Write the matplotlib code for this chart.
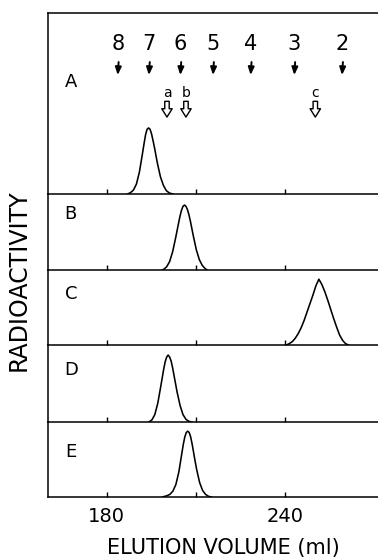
import matplotlib
matplotlib.use("Agg")
import matplotlib.pyplot as plt

# ---------------- data ----------------
panel_labels = ["A", "B", "C", "D", "E"]

a_x = [187.0, 188.0, 189.0, 190.0, 191.0, 192.0, 192.6, 193.1, 193.6, 194.1, 194.6,
       195.1, 195.6, 196.1, 197.1, 198.1, 199.1, 200.1, 201.1, 202.3]
a_y = [0, 2, 6, 15, 33, 60, 77, 90, 98, 100, 98, 91, 81, 70, 46, 26, 13, 5, 1.5, 0]

b_x = [198.7, 199.2, 200.2, 201.2, 202.2, 203.2, 204.2, 204.7, 205.2, 205.7, 206.2,
       206.7, 207.2, 207.7, 208.2, 209.2, 210.2, 211.2, 212.2, 213.2, 213.9]
b_y = [0, 1, 5, 13, 28, 49, 72, 83, 92, 98, 100, 98, 93, 85, 75, 52, 31, 16, 7, 2, 0]

c_x = [240.5, 241.5, 242.5, 243.5, 244.5, 245.5, 246.5, 247.5, 248.5, 249.5, 250.5,
       251.5, 252.5, 253.5, 254.5, 255.5, 256.5, 257.5, 258.5, 259.5, 260.5, 261.5]
c_y = [0, 2, 5, 10, 17, 26, 37, 50, 63, 76, 90, 100, 92, 81, 68, 54, 40, 27, 15, 7, 2, 0]

d_x = [194.2, 195.2, 196.2, 197.2, 198.2, 198.7, 199.2, 199.7, 200.2, 200.7, 201.2,
       201.7, 202.2, 202.7, 203.7, 204.7, 205.7, 206.7, 207.7, 208.7]
d_y = [0, 3, 11, 28, 53, 66, 79, 90, 97, 100, 97, 91, 81, 69, 45, 25, 11, 4, 1, 0]

e_x = [198.8, 200.3, 201.3, 202.3, 203.3, 204.3, 204.8, 205.3, 205.8, 206.3, 206.8,
       207.3, 207.8, 208.3, 208.8, 209.3, 209.8, 210.3, 211.3, 212.3, 213.3, 214.3, 215.3]
e_y = [0, 2, 4, 9, 19, 38, 52, 66, 80, 91, 98, 100, 98, 91, 80, 67, 54, 42, 22, 10, 4, 1, 0]

series_x = [a_x, b_x, c_x, d_x, e_x]
series_y = [a_y, b_y, c_y, d_y, e_y]

# molecular-size marker positions (ml) and their numbers
marker_pos = [183.7, 194.2, 204.8, 215.8, 228.5, 243.2, 259.3]
marker_lab = ["8", "7", "6", "5", "4", "3", "2"]

# open arrows
open_pos = [200.3, 206.7, 250.3]
open_lab = ["a", "b", "c"]

xticks = [180, 210, 240]
xtick_labels = ["180", "", "240"]

# ---------------- layout ----------------
W, H = 378, 560
fig = plt.figure(figsize=(W / 100, H / 100), dpi=100)
plt.rcParams['font.family'] = ['DejaVu Sans']

# pixel rows (top, bottom) of each panel
rows = [(13, 194), (194, 270), (270, 345), (345, 422), (422, 497)]
ytops = [274, 117, 114, 115, 114]
label_fracs = [0.62, 0.74, 0.68, 0.675, 0.60]
left_px = 48
xlim = (160.2, 272.7)

axes = []
for i, (t, b) in enumerate(rows):
    ax = fig.add_axes([left_px / W, 1 - b / H, 1 - left_px / W + 0.01, (b - t) / H])
    ax.patch.set_visible(False)
    ax.set_zorder(10 - i)
    ax.plot(series_x[i], series_y[i], color="black", lw=1.15, solid_joinstyle="round")
    ax.set_xlim(*xlim)
    ax.set_ylim(0, ytops[i])
    ax.spines["right"].set_visible(False)
    ax.spines["top"].set_visible(i == 0)
    for s in ax.spines.values():
        s.set_linewidth(1.1)
        s.set_color("black")
    ax.set_yticks([])
    ax.set_xticks(xticks)
    ax.tick_params(axis="x", direction="in", length=3.5, width=1.0, pad=7, labelsize=14)
    if i < len(rows) - 1:
        ax.set_xticklabels([])
    else:
        ax.set_xticklabels(xtick_labels)
    ax.text(167.9, label_fracs[i], panel_labels[i], transform=ax.get_xaxis_transform(),
            ha="center", va="center", fontsize=13)
    axes.append(ax)

axA = axes[0]
tr = axA.get_xaxis_transform()
for xp, lab in zip(marker_pos, marker_lab):
    axA.text(xp, 0.826, lab, transform=tr, ha="center", va="center", fontsize=15)
    axA.annotate("", xy=(xp, 0.657), xytext=(xp + 0.3, 0.729), xycoords=tr, textcoords=tr,
                 arrowprops=dict(arrowstyle="-|>,head_length=0.45,head_width=0.18",
                                 color="black", lw=1.4, shrinkA=0, shrinkB=0,
                                 mutation_scale=10))

for xp, lab in zip(open_pos, open_lab):
    axA.text(xp, 0.56, lab, transform=tr, ha="center", va="center", fontsize=10)
    axA.annotate("", xy=(xp, 0.425), xytext=(xp, 0.512), xycoords=tr, textcoords=tr,
                 arrowprops=dict(arrowstyle="simple,head_length=0.6,head_width=0.75,tail_width=0.32",
                                 fc="white", ec="black", lw=1.0, shrinkA=0, shrinkB=0,
                                 mutation_scale=10))

axE = axes[-1]
axE.set_xlabel("ELUTION VOLUME (ml)", fontsize=15)
axE.xaxis.set_label_coords((221 - left_px) / (W - left_px), (497 - 548) / 75)
axE.xaxis.label.set_va("center")

fig.text(19 / W, 1 - 280 / H, "RADIOACTIVITY", rotation=90, ha="center", va="center",
         fontsize=17)

fig.savefig("out.png", dpi=100)
